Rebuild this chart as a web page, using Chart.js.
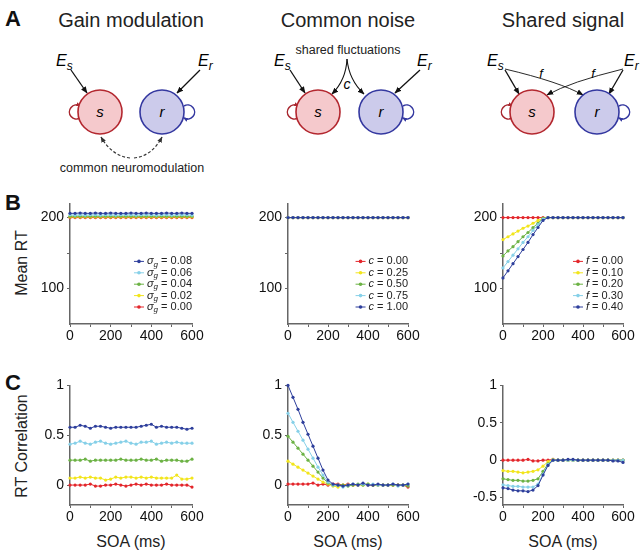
<!DOCTYPE html>
<html>
<head>
<meta charset="utf-8">
<script src="https://cdn.jsdelivr.net/npm/chart.js@4.4.1/dist/chart.umd.min.js"></script>
<style>
  body { margin: 0; width: 640px; height: 553px; position: relative; overflow: hidden; background: #fff;
         font-family: "Liberation Sans", Arial, Helvetica, sans-serif; color: #222; }
  .abs { position: absolute; white-space: nowrap; }
  .panel { font-weight: bold; font-size: 22px; color: #111; }
  .title { font-size: 20px; transform: translate(-50%, -50%); }
  .ytitle { font-size: 16px; transform: translate(-50%, -50%) rotate(-90deg); }
  .xtitle { font-size: 16px; transform: translate(-50%, -50%); }
  canvas { position: absolute; }
</style>
</head>
<body>

<!-- model diagrams (panel A) -->
<svg class="abs" style="left:0;top:0" width="640" height="180" font-family="Liberation Sans, Arial, sans-serif">
  <defs>
    <marker id="ahK" viewBox="0 0 10 10" refX="9" refY="5" markerUnits="userSpaceOnUse" markerWidth="7" markerHeight="7" orient="auto"><path d="M0,1 L10,5 L0,9 z" fill="#111"/></marker>
    <marker id="ahS" viewBox="0 0 10 10" refX="9" refY="5" markerUnits="userSpaceOnUse" markerWidth="6" markerHeight="6" orient="auto"><path d="M0,1 L10,5 L0,9 z" fill="#333"/></marker>
    <marker id="ahR" viewBox="0 0 10 10" refX="8" refY="5" markerUnits="userSpaceOnUse" markerWidth="5" markerHeight="5" orient="auto"><path d="M0,1 L10,5 L0,9 z" fill="#a8262e"/></marker>
    <marker id="ahB" viewBox="0 0 10 10" refX="8" refY="5" markerUnits="userSpaceOnUse" markerWidth="5" markerHeight="5" orient="auto"><path d="M0,1 L10,5 L0,9 z" fill="#3438a0"/></marker>
  </defs>

  <!-- gain modulation -->
  <g>
    <path d="M71,70 L87,93" stroke="#111" stroke-width="1.3" marker-end="url(#ahK)"/>
    <path d="M200,70 L177,93" stroke="#111" stroke-width="1.3" marker-end="url(#ahK)"/>
    <path d="M80,118 A7,7 0 1 1 80,106" fill="none" stroke="#a8262e" stroke-width="1.5" marker-end="url(#ahR)"/>
    <path d="M184,106 A7,7 0 1 1 184,118" fill="none" stroke="#3438a0" stroke-width="1.5" marker-end="url(#ahB)"/>
    <circle cx="100" cy="112" r="22" fill="#f5c9cc" stroke="#b3272f" stroke-width="1.6"/>
    <circle cx="162" cy="112" r="22" fill="#cccbeb" stroke="#3438a0" stroke-width="1.6"/>
    <text x="100" y="117" font-size="15" font-style="italic" text-anchor="middle">s</text>
    <text x="162" y="117" font-size="15" font-style="italic" text-anchor="middle">r</text>
    <text x="56" y="66" font-size="16" font-style="italic">E<tspan font-size="12" dy="4">s</tspan></text>
    <text x="198" y="66" font-size="16" font-style="italic">E<tspan font-size="12" dy="4">r</tspan></text>
    <path d="M130,158 Q112,156 101,137" fill="none" stroke="#333" stroke-width="1.2" stroke-dasharray="3,2" marker-end="url(#ahS)"/>
    <path d="M134,158 Q152,156 162,137" fill="none" stroke="#333" stroke-width="1.2" stroke-dasharray="3,2" marker-end="url(#ahS)"/>
    <text x="132" y="172" font-size="12.5" text-anchor="middle" fill="#222">common neuromodulation</text>
  </g>

  <!-- common noise -->
  <g>
    <path d="M290,70 L305,93" stroke="#111" stroke-width="1.3" marker-end="url(#ahK)"/>
    <path d="M420,70 L395,93" stroke="#111" stroke-width="1.3" marker-end="url(#ahK)"/>
    <path d="M298,118 A7,7 0 1 1 298,106" fill="none" stroke="#a8262e" stroke-width="1.5" marker-end="url(#ahR)"/>
    <path d="M403,106 A7,7 0 1 1 403,118" fill="none" stroke="#3438a0" stroke-width="1.5" marker-end="url(#ahB)"/>
    <path d="M347,59 Q346,80 332,94" fill="none" stroke="#111" stroke-width="1.1" marker-end="url(#ahK)"/>
    <path d="M347,59 Q349,80 364,94" fill="none" stroke="#111" stroke-width="1.1" marker-end="url(#ahK)"/>
    <circle cx="318" cy="112" r="22" fill="#f5c9cc" stroke="#b3272f" stroke-width="1.6"/>
    <circle cx="381" cy="112" r="22" fill="#cccbeb" stroke="#3438a0" stroke-width="1.6"/>
    <text x="318" y="117" font-size="15" font-style="italic" text-anchor="middle">s</text>
    <text x="381" y="117" font-size="15" font-style="italic" text-anchor="middle">r</text>
    <text x="347" y="89" font-size="14" font-style="italic" text-anchor="middle">c</text>
    <text x="348" y="54" font-size="12.5" text-anchor="middle" fill="#222">shared fluctuations</text>
    <text x="274" y="66" font-size="16" font-style="italic">E<tspan font-size="12" dy="4">s</tspan></text>
    <text x="417" y="66" font-size="16" font-style="italic">E<tspan font-size="12" dy="4">r</tspan></text>
  </g>

  <!-- shared signal -->
  <g>
    <path d="M505,70 L519,94" stroke="#111" stroke-width="1.3" marker-end="url(#ahK)"/>
    <path d="M623,70 L609,94" stroke="#111" stroke-width="1.3" marker-end="url(#ahK)"/>
    <path d="M505,69 Q560,82 583,95" fill="none" stroke="#111" stroke-width="0.9" marker-end="url(#ahK)"/>
    <path d="M623,69 Q570,82 547,95" fill="none" stroke="#111" stroke-width="0.9" marker-end="url(#ahK)"/>
    <path d="M512,118 A7,7 0 1 1 512,106" fill="none" stroke="#a8262e" stroke-width="1.5" marker-end="url(#ahR)"/>
    <path d="M619,106 A7,7 0 1 1 619,118" fill="none" stroke="#3438a0" stroke-width="1.5" marker-end="url(#ahB)"/>
    <circle cx="532" cy="112" r="22" fill="#f5c9cc" stroke="#b3272f" stroke-width="1.6"/>
    <circle cx="597" cy="112" r="22" fill="#cccbeb" stroke="#3438a0" stroke-width="1.6"/>
    <text x="532" y="117" font-size="15" font-style="italic" text-anchor="middle">s</text>
    <text x="597" y="117" font-size="15" font-style="italic" text-anchor="middle">r</text>
    <text x="541" y="78" font-size="13" font-style="italic" text-anchor="middle">f</text>
    <text x="593" y="78" font-size="13" font-style="italic" text-anchor="middle">f</text>
    <text x="487" y="66" font-size="16" font-style="italic">E<tspan font-size="12" dy="4">s</tspan></text>
    <text x="624" y="66" font-size="16" font-style="italic">E<tspan font-size="12" dy="4">r</tspan></text>
  </g>
</svg>

<div class="abs panel" style="left:5px;top:6px">A</div>
<div class="abs panel" style="left:5px;top:190px">B</div>
<div class="abs panel" style="left:5px;top:370px">C</div>

<div class="abs title" style="left:131px;top:20px">Gain modulation</div>
<div class="abs title" style="left:348px;top:20px">Common noise</div>
<div class="abs title" style="left:563px;top:20px">Shared signal</div>

<div class="abs ytitle" style="left:22px;top:263px">Mean RT</div>
<div class="abs ytitle" style="left:22px;top:446px">RT Correlation</div>

<div class="abs xtitle" style="left:131px;top:542px">SOA (ms)</div>
<div class="abs xtitle" style="left:348px;top:542px">SOA (ms)</div>
<div class="abs xtitle" style="left:563px;top:542px">SOA (ms)</div>

<canvas id="b1" width="181" height="154" style="left:25px;top:192px"></canvas>
<canvas id="b2" width="179" height="154" style="left:243px;top:192px"></canvas>
<canvas id="b3" width="179" height="154" style="left:458px;top:192px"></canvas>
<canvas id="c1" width="181" height="153" style="left:25px;top:374px"></canvas>
<canvas id="c2" width="179" height="153" style="left:243px;top:374px"></canvas>
<canvas id="c3" width="179" height="153" style="left:458px;top:374px"></canvas>

<script>
// SOA values (ms)
const soa = [0, 25, 50, 75, 100, 125, 150, 175, 200, 225, 250, 275, 300, 325, 350, 375, 400, 425, 450, 475, 500, 525, 550, 575, 600]

// Tick labels
const xTicks = [0, 100, 200, 300, 400, 500, 600]
const xTickLabels = ['0', '', '200', '', '400', '', '600']
const rtTicks = [100, 150, 200]
const rtTickLabels = ['100', '', '200']
const corrTicks = [0, 0.5, 1]
const corrTickLabels = ['0', '0.5', '1']
const corrTicksShared = [-0.5, 0, 0.5, 1]
const corrTickLabelsShared = ['-0.5', '0', '0.5', '1']

// Legend levels
const gainLevels = ['0.00', '0.02', '0.04', '0.06', '0.08']
const noiseLevels = ['0.00', '0.25', '0.50', '0.75', '1.00']
const sharedLevels = ['0.00', '0.10', '0.20', '0.30', '0.40']

// B: mean RT, gain modulation (sigma_g = 0.00 ... 0.08)
const rtGain0 = [200, 200, 200, 200, 200, 200, 200, 200, 200, 200, 200, 200, 200, 200, 200, 200, 200, 200, 200, 200, 200, 200, 200, 200, 200]
const rtGain1 = [201, 201, 201, 201, 201, 201, 201, 201, 201, 201, 201, 201, 201, 201, 201, 201, 201, 201, 201, 201, 201, 201, 201, 201, 201]
const rtGain2 = [202, 202, 202, 202, 202, 202, 202, 202, 202, 202, 202, 202, 202, 202, 202, 202, 202, 202, 202, 202, 202, 202, 202, 202, 202]
const rtGain3 = [204, 203.5, 204, 203.5, 204, 204, 203.5, 204, 204, 203.5, 204, 204, 204, 203.5, 204, 204, 204, 203.5, 204, 204, 203.5, 204, 204, 204, 203.5]
const rtGain4 = [206, 206, 206.5, 206, 206, 206.5, 206, 206, 206.5, 206, 206, 206, 206.5, 206, 206, 206.5, 206, 206, 206, 206.5, 206, 206, 206.5, 206, 206]

// B: mean RT, common noise (all c)
const rtNoise = [200, 200, 200, 200, 200, 200, 200, 200, 200, 200, 200, 200, 200, 200, 200, 200, 200, 200, 200, 200, 200, 200, 200, 200, 200]

// B: mean RT, shared signal (f = 0.00 ... 0.40)
const rtShared0 = [200, 200, 200, 200, 200, 200, 200, 200, 200, 200, 200, 200, 200, 200, 200, 200, 200, 200, 200, 200, 200, 200, 200, 200, 200]
const rtShared1 = [169, 173, 177, 181, 185, 188, 192, 196, 199, 200, 200, 200, 200, 200, 200, 200, 200, 200, 200, 200, 200, 200, 200, 200, 200]
const rtShared2 = [146, 153, 159, 166, 173, 179, 186, 192, 199, 200, 200, 200, 200, 200, 200, 200, 200, 200, 200, 200, 200, 200, 200, 200, 200]
const rtShared3 = [129, 138, 147, 156, 165, 173, 182, 190, 198, 200, 200, 200, 200, 200, 200, 200, 200, 200, 200, 200, 200, 200, 200, 200, 200]
const rtShared4 = [115, 125, 135, 145, 155, 165, 176, 186, 196, 200, 200, 200, 200, 200, 200, 200, 200, 200, 200, 200, 200, 200, 200, 200, 200]

// C: RT correlation, gain modulation
const corrGain0 = [0.00, 0.00, 0.00, 0.00, 0.01, -0.01, -0.01, 0.00, 0.00, 0.01, 0.00, -0.01, 0.00, 0.01, 0.00, 0.01, 0.00, 0.00, 0.00, 0.01, 0.00, 0.00, 0.00, 0.00, -0.02]
const corrGain1 = [0.07, 0.07, 0.08, 0.07, 0.08, 0.07, 0.07, 0.05, 0.06, 0.08, 0.07, 0.08, 0.08, 0.07, 0.08, 0.07, 0.08, 0.07, 0.07, 0.07, 0.07, 0.10, 0.06, 0.06, 0.07]
const corrGain2 = [0.25, 0.25, 0.25, 0.26, 0.24, 0.25, 0.25, 0.25, 0.25, 0.25, 0.26, 0.25, 0.25, 0.25, 0.26, 0.25, 0.25, 0.26, 0.24, 0.25, 0.25, 0.25, 0.24, 0.24, 0.26]
const corrGain3 = [0.41, 0.42, 0.44, 0.42, 0.41, 0.43, 0.44, 0.42, 0.41, 0.42, 0.43, 0.44, 0.42, 0.41, 0.43, 0.43, 0.44, 0.41, 0.42, 0.43, 0.42, 0.43, 0.42, 0.42, 0.42]
const corrGain4 = [0.58, 0.58, 0.60, 0.59, 0.57, 0.59, 0.59, 0.58, 0.57, 0.58, 0.58, 0.58, 0.58, 0.58, 0.59, 0.60, 0.61, 0.58, 0.59, 0.58, 0.58, 0.58, 0.57, 0.56, 0.57]

// C: RT correlation, common noise
const corrNoise0 = [0.01, 0.01, 0.01, 0.01, 0.01, 0.02, 0.00, 0.01, 0.00, 0.01, 0.01, 0.00, 0.01, 0.00, 0.00, 0.01, 0.00, 0.00, 0.00, 0.00, 0.00, 0.00, 0.00, 0.00, -0.02]
const corrNoise1 = [0.24, 0.21, 0.18, 0.15, 0.12, 0.09, 0.06, 0.03, 0.01, -0.01, -0.02, 0.00, 0.00, 0.00, 0.00, 0.00, 0.01, 0.00, 0.00, 0.00, 0.00, 0.00, 0.00, 0.00, 0.00]
const corrNoise2 = [0.49, 0.43, 0.37, 0.31, 0.25, 0.19, 0.13, 0.07, 0.02, 0.00, 0.00, 0.00, -0.01, 0.00, 0.01, 0.00, 0.01, 0.00, 0.00, 0.00, 0.00, 0.00, 0.00, 0.00, -0.01]
const corrNoise3 = [0.72, 0.63, 0.54, 0.45, 0.36, 0.27, 0.18, 0.10, 0.03, 0.00, 0.00, -0.02, 0.00, 0.01, 0.00, 0.01, 0.00, 0.01, 0.00, 0.00, 0.00, 0.01, -0.01, 0.00, 0.01]
const corrNoise4 = [1.00, 0.88, 0.76, 0.63, 0.51, 0.39, 0.27, 0.15, 0.05, 0.01, 0.00, -0.01, 0.00, 0.01, 0.00, 0.02, 0.00, 0.00, 0.01, 0.00, 0.00, 0.01, 0.00, 0.00, 0.01]

// C: RT correlation, shared signal
const corrShared0 = [0.00, 0.00, 0.00, 0.00, 0.00, 0.01, -0.01, -0.01, 0.00, 0.00, 0.01, 0.00, 0.00, 0.00, 0.00, 0.00, 0.00, 0.00, 0.00, 0.00, 0.00, 0.00, 0.00, 0.00, 0.00]
const corrShared1 = [-0.14, -0.15, -0.15, -0.16, -0.17, -0.16, -0.15, -0.13, -0.08, -0.02, 0.01, 0.00, 0.00, 0.00, 0.00, 0.00, 0.00, 0.00, 0.00, 0.00, 0.00, 0.00, 0.00, 0.00, 0.00]
const corrShared2 = [-0.25, -0.26, -0.27, -0.27, -0.28, -0.28, -0.27, -0.25, -0.15, -0.05, 0.00, 0.00, 0.00, 0.00, 0.00, 0.00, 0.00, 0.00, 0.00, 0.00, 0.00, 0.00, 0.00, 0.00, 0.00]
const corrShared3 = [-0.33, -0.34, -0.35, -0.35, -0.36, -0.36, -0.36, -0.32, -0.19, -0.06, 0.00, 0.00, 0.00, 0.00, 0.00, 0.00, 0.00, 0.00, 0.00, 0.00, 0.00, 0.00, 0.00, 0.00, 0.00]
const corrShared4 = [-0.37, -0.38, -0.40, -0.41, -0.41, -0.42, -0.40, -0.34, -0.20, -0.07, 0.00, 0.00, 0.00, 0.01, 0.01, 0.00, 0.00, 0.00, 0.00, 0.00, 0.00, 0.00, -0.01, -0.01, -0.03]

// Series colours, lowest level first
const levelColors = ['#e3262b', '#f2e51c', '#6cb245', '#86d0e8', '#2e3f9c']

const FONT = '"Liberation Sans", Arial, Helvetica, sans-serif'
const AXIS_COLOR = '#666'

// Legend drawn inside the plot area, bottom right
const innerLegend = {
  id: 'innerLegend',
  afterDatasetsDraw (chart, args, opts) {
    if (!opts.items) return
    const { ctx, chartArea } = chart
    const fontFor = p => (p.italic ? 'italic ' : '') + (p.sub ? '8px ' : '11px ') + FONT
    ctx.save()
    ctx.textBaseline = 'middle'
    opts.items.forEach((item, i) => {
      const y = chartArea.top + opts.top + i * opts.gap
      let w = 0
      item.parts.forEach(p => { ctx.font = fontFor(p); w += ctx.measureText(p.t).width })
      let x = chartArea.right - w
      ctx.fillStyle = '#222'
      item.parts.forEach(p => {
        ctx.font = fontFor(p)
        ctx.fillText(p.t, x, y + (p.sub ? 3 : 0))
        x += ctx.measureText(p.t).width
      })
      const mx = chartArea.right - w - 3
      ctx.strokeStyle = item.color
      ctx.lineWidth = 1
      ctx.beginPath()
      ctx.moveTo(mx - 10, y)
      ctx.lineTo(mx, y)
      ctx.stroke()
      ctx.fillStyle = item.color
      ctx.beginPath()
      ctx.arc(mx - 5, y, 1.8, 0, Math.PI * 2)
      ctx.fill()
    })
    ctx.restore()
  }
}

const makeChart = function (id, seriesValues, yMin, yMax, yTicks, yTickLabels, legendItems) {
  // highest level first so it is painted on top
  const datasets = seriesValues.map((values, i) => ({
    data: soa.map((x, j) => ({ x, y: values[j] })),
    borderColor: levelColors[i],
    backgroundColor: levelColors[i],
    pointBackgroundColor: levelColors[i],
    clip: false
  })).reverse()

  return new Chart(document.getElementById(id), {
    type: 'line',
    data: { datasets },
    options: {
      responsive: false,
      animation: false,
      layout: { padding: { top: 10, right: 14, left: 0, bottom: 0 } },
      elements: {
        point: { radius: 1.6, borderWidth: 0, hoverRadius: 1.6 },
        line: { borderWidth: 1, tension: 0 }
      },
      plugins: {
        legend: { display: false },
        tooltip: { enabled: false },
        innerLegend: { items: legendItems, top: 58, gap: 11.4 }
      },
      scales: {
        x: {
          type: 'linear',
          min: 0,
          max: 600,
          afterBuildTicks: s => { s.ticks = xTicks.map(v => ({ value: v })) },
          afterFit: s => { s.height = 22 },
          grid: { drawOnChartArea: false, tickLength: 3, color: AXIS_COLOR, lineWidth: 1 },
          border: { color: AXIS_COLOR, width: 1.5 },
          ticks: {
            autoSkip: false,
            maxRotation: 0,
            padding: 1,
            color: '#111',
            font: { family: FONT, size: 14 },
            callback: v => xTickLabels[xTicks.indexOf(v)]
          }
        },
        y: {
          min: yMin,
          max: yMax,
          afterBuildTicks: s => { s.ticks = yTicks.map(v => ({ value: v })) },
          afterFit: s => { s.width = 45 },
          grid: { drawOnChartArea: false, tickLength: 3, color: AXIS_COLOR, lineWidth: 1 },
          border: { color: AXIS_COLOR, width: 1.5 },
          ticks: {
            autoSkip: false,
            padding: 3,
            color: '#111',
            font: { family: FONT, size: 14 },
            callback: v => yTickLabels[yTicks.indexOf(v)]
          }
        }
      }
    },
    plugins: [innerLegend]
  })
}

const legendFor = function (symbol, levels, sub, descending) {
  const items = levels.map((lvl, i) => {
    const parts = [{ t: symbol, italic: true }]
    if (sub) parts.push({ t: sub, italic: true, sub: true })
    parts.push({ t: ' = ' + lvl })
    return { parts, color: levelColors[i] }
  })
  return descending ? items.reverse() : items
}

makeChart('b1', [rtGain0, rtGain1, rtGain2, rtGain3, rtGain4], 50, 220, rtTicks, rtTickLabels, legendFor('σ', gainLevels, 'g', true))
makeChart('b2', [rtNoise, rtNoise, rtNoise, rtNoise, rtNoise], 50, 220, rtTicks, rtTickLabels, legendFor('c', noiseLevels, null, false))
makeChart('b3', [rtShared0, rtShared1, rtShared2, rtShared3, rtShared4], 50, 220, rtTicks, rtTickLabels, legendFor('f', sharedLevels, null, false))
makeChart('c1', [corrGain0, corrGain1, corrGain2, corrGain3, corrGain4], -0.2, 1, corrTicks, corrTickLabels, null)
makeChart('c2', [corrNoise0, corrNoise1, corrNoise2, corrNoise3, corrNoise4], -0.2, 1, corrTicks, corrTickLabels, null)
makeChart('c3', [corrShared0, corrShared1, corrShared2, corrShared3, corrShared4], -0.6, 1, corrTicksShared, corrTickLabelsShared, null)
</script>
</body>
</html>
